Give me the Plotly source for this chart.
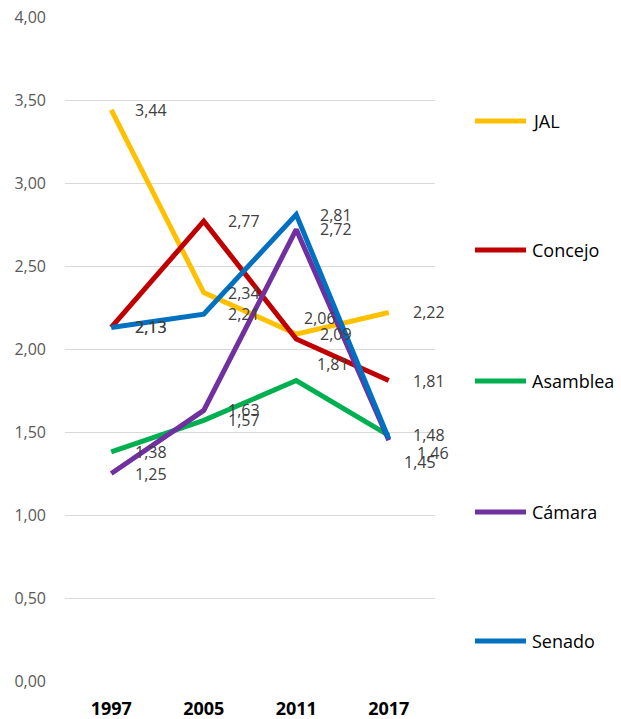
import plotly.graph_objects as go

# Survey years (category axis)
years = ["1997", "2005", "2011", "2017"]

# Average values per corporation
jal = [3.44, 2.34, 2.09, 2.22]
concejo = [2.13, 2.77, 2.06, 1.81]
asamblea = [1.38, 1.57, 1.81, 1.48]
camara = [1.25, 1.63, 2.72, 1.45]
senado = [2.13, 2.21, 2.81, 1.46]

series_names = ["JAL", "Concejo", "Asamblea", "Cámara", "Senado"]
series_values = [jal, concejo, asamblea, camara, senado]
series_colors = ["#FFC000", "#C00000", "#00B050", "#7030A0", "#0070C0"]

# Label nudges (pixels) where value labels would collide: (series, year index) -> (dx, dy)
label_nudges = {
    ("Concejo", 2): (-16, 21),
    ("Asamblea", 2): (-3, 17),
    ("Senado", 3): (4, -14),
    ("Cámara", 3): (-9, -22),
}

# Plot-area geometry in pixels
W, H = 621, 719
L, R, T, B = 65, 186, 17, 38
PW, PH = W - L - R, H - T - B


def px_to_paper(px, py):
    return (px - L) / PW, (H - B - py) / PH


fig = go.Figure()
annotations = []
shapes = []

for name, vals, color in zip(series_names, series_values, series_colors):
    fig.add_trace(go.Scatter(
        x=years, y=vals, name=name, mode="lines",
        line=dict(color=color, width=5),
        showlegend=False, hoverinfo="skip",
    ))
    for i, v in enumerate(vals):
        dx, dy = label_nudges.get((name, i), (0, 0))
        annotations.append(dict(
            # category index, so numeric-looking year strings are not misread
            x=i, y=v, xref="x", yref="y",
            text=f"{v:.2f}".replace(".", ","),
            showarrow=False, xanchor="left", yanchor="middle",
            xshift=22 + dx, yshift=dy,
            font=dict(family="Open Sans", size=16, color="#404040"),
        ))

# Legend drawn at the right, one entry per series
legend_rows = [121, 250, 381, 512, 641]
for name, color, row in zip(series_names, series_colors, legend_rows):
    x0, y0 = px_to_paper(475, row)
    x1, _ = px_to_paper(526, row)
    shapes.append(dict(
        type="line", xref="paper", yref="paper",
        x0=x0, x1=x1, y0=y0, y1=y0,
        line=dict(color=color, width=5),
    ))
    tx, ty = px_to_paper(530, row)
    annotations.append(dict(
        x=tx, y=ty, xref="paper", yref="paper",
        text=name, showarrow=False, xanchor="left", yanchor="middle",
        font=dict(family="Open Sans", size=18, color="#000000"),
    ))

fig.update_layout(
    width=W, height=H,
    margin=dict(l=L, r=R, t=T, b=B, pad=0, autoexpand=False),
    paper_bgcolor="white", plot_bgcolor="white",
    separators=",.",
    annotations=annotations,
    shapes=shapes,
    xaxis=dict(
        type="category", categoryorder="array", categoryarray=years,
        range=[-0.5, 3.5], showgrid=False, zeroline=False, showline=False,
        ticks="", ticklabelstandoff=15, automargin=False,
        tickfont=dict(family="Open Sans", size=18, color="#000000", weight="bold"),
    ),
    yaxis=dict(
        range=[0, 4], dtick=0.5, tick0=0, tickformat=".2f",
        showgrid=True, gridcolor="#D9D9D9", gridwidth=1,
        zeroline=False, showline=False, ticks="", ticklabelstandoff=18,
        automargin=False,
        tickfont=dict(family="Open Sans", size=16, color="#595959"),
    ),
)

fig.write_html("out.html")
